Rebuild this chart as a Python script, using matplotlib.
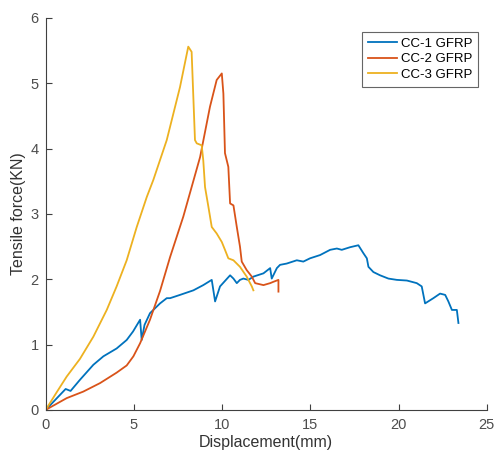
"""
Curvas fuerza-desplazamiento de probetas CC con GFRP (estilo MATLAB).
"""
import matplotlib
matplotlib.use("Agg")
import matplotlib.pyplot as plt

# CC-1 GFRP
cc1_x = [0, 0.6, 1.13, 1.41, 1.94, 2.7, 3.27, 4.02, 4.59, 4.95, 5.35, 5.44, 5.6, 5.91,
         6.48, 6.86, 7.05, 7.61, 8.37, 8.93, 9.41, 9.6, 9.88, 10.45, 10.64, 10.83, 11.01,
         11.2, 11.49, 11.77, 12.34, 12.72, 12.81, 13.1, 13.28, 13.66, 14.23, 14.6, 14.98,
         15.55, 16.12, 16.5, 16.78, 17.25, 17.72, 18.0, 18.2, 18.29, 18.57, 18.95, 19.42,
         19.9, 20.47, 21.03, 21.31, 21.5, 21.97, 22.35, 22.64, 22.82, 23.02, 23.3, 23.39]
cc1_y = [0, 0.17, 0.32, 0.29, 0.46, 0.69, 0.82, 0.94, 1.07, 1.2, 1.38, 1.07, 1.3, 1.48,
         1.63, 1.71, 1.71, 1.76, 1.83, 1.91, 1.99, 1.66, 1.89, 2.06, 2.01, 1.94, 1.99,
         2.01, 1.99, 2.04, 2.09, 2.17, 2.01, 2.17, 2.22, 2.24, 2.29, 2.27, 2.32,
         2.37, 2.45, 2.47, 2.45, 2.49, 2.52, 2.40, 2.32, 2.19, 2.11, 2.06, 2.01,
         1.99, 1.98, 1.94, 1.89, 1.63, 1.71, 1.78, 1.76, 1.66, 1.53, 1.53, 1.33]

# CC-2 GFRP
cc2_x = [0, 1.19, 2.13, 3.08, 4.02, 4.59, 4.97, 5.35, 5.91, 6.48, 7.05, 7.8, 8.75, 9.31,
         9.69, 9.98, 10.07, 10.16, 10.35, 10.45, 10.64, 10.83, 11.01, 11.11, 11.39, 11.68,
         11.87, 12.34, 12.72, 12.9, 13.19, 13.19]
cc2_y = [0, 0.18, 0.28, 0.41, 0.57, 0.68, 0.82, 1.02, 1.38, 1.82, 2.34, 2.96, 3.87, 4.64,
         5.05, 5.15, 4.84, 3.93, 3.72, 3.16, 3.13, 2.80, 2.50, 2.27, 2.14, 2.04,
         1.94, 1.91, 1.94, 1.96, 1.99, 1.81]

# CC-3 GFRP
cc3_x = [0, 0.6, 1.19, 1.94, 2.7, 3.46, 4.02, 4.59, 5.16, 5.73, 6.1, 6.86, 7.61, 8.08,
         8.27, 8.46, 8.56, 8.84, 8.93, 9.03, 9.22, 9.41, 9.69, 9.98, 10.16, 10.35, 10.64,
         11.01, 11.39, 11.68, 11.77]
cc3_y = [0, 0.26, 0.51, 0.78, 1.12, 1.53, 1.89, 2.29, 2.80, 3.26, 3.52, 4.13, 4.94, 5.56,
         5.48, 4.13, 4.08, 4.05, 3.82, 3.41, 3.11, 2.80, 2.70, 2.57, 2.45, 2.32, 2.29,
         2.19, 2.04, 1.89, 1.83]

etiquetas = ["CC-1 GFRP", "CC-2 GFRP", "CC-3 GFRP"]
colores = ["#0072BD", "#D95319", "#EDB120"]

plt.rcParams["font.family"] = ["Liberation Sans", "DejaVu Sans"]

fig = plt.figure(figsize=(4.94, 4.59), dpi=100)
ax = fig.add_axes([0.0925, 0.107, 0.893, 0.854])

for xs, ys, lab, c in zip([cc1_x, cc2_x, cc3_x], [cc1_y, cc2_y, cc3_y], etiquetas, colores):
    ax.plot(xs, ys, color=c, lw=1.3, label=lab)

ax.set_xlim(0, 25)
ax.set_ylim(0, 6)
ax.set_xticks([0, 5, 10, 15, 20, 25])
ax.set_yticks([0, 1, 2, 3, 4, 5, 6])
for s in ["top", "right"]:
    ax.spines[s].set_visible(False)
for s in ["left", "bottom"]:
    ax.spines[s].set_color("#404040")
    ax.spines[s].set_linewidth(0.8)
ax.tick_params(direction="in", length=4, width=0.8, colors="#404040",
               labelcolor="#4d4d4d", labelsize=10.5)
ax.tick_params(axis="x", pad=6)
ax.tick_params(axis="y", pad=5)
ax.set_xlabel("Displacement(mm)", fontsize=11.5, color="#333333", labelpad=2)
ax.set_ylabel("Tensile force(KN)", fontsize=11.5, color="#333333", labelpad=3)

leg = ax.legend(loc="upper right", bbox_to_anchor=(0.98, 0.965), fontsize=9.5,
                frameon=True, fancybox=False, handlelength=2.2, handletextpad=0.3,
                borderpad=0.45, labelspacing=0.25, borderaxespad=0)
leg.get_frame().set_edgecolor("#404040")
leg.get_frame().set_linewidth(0.8)

fig.savefig("out.png", dpi=100)
